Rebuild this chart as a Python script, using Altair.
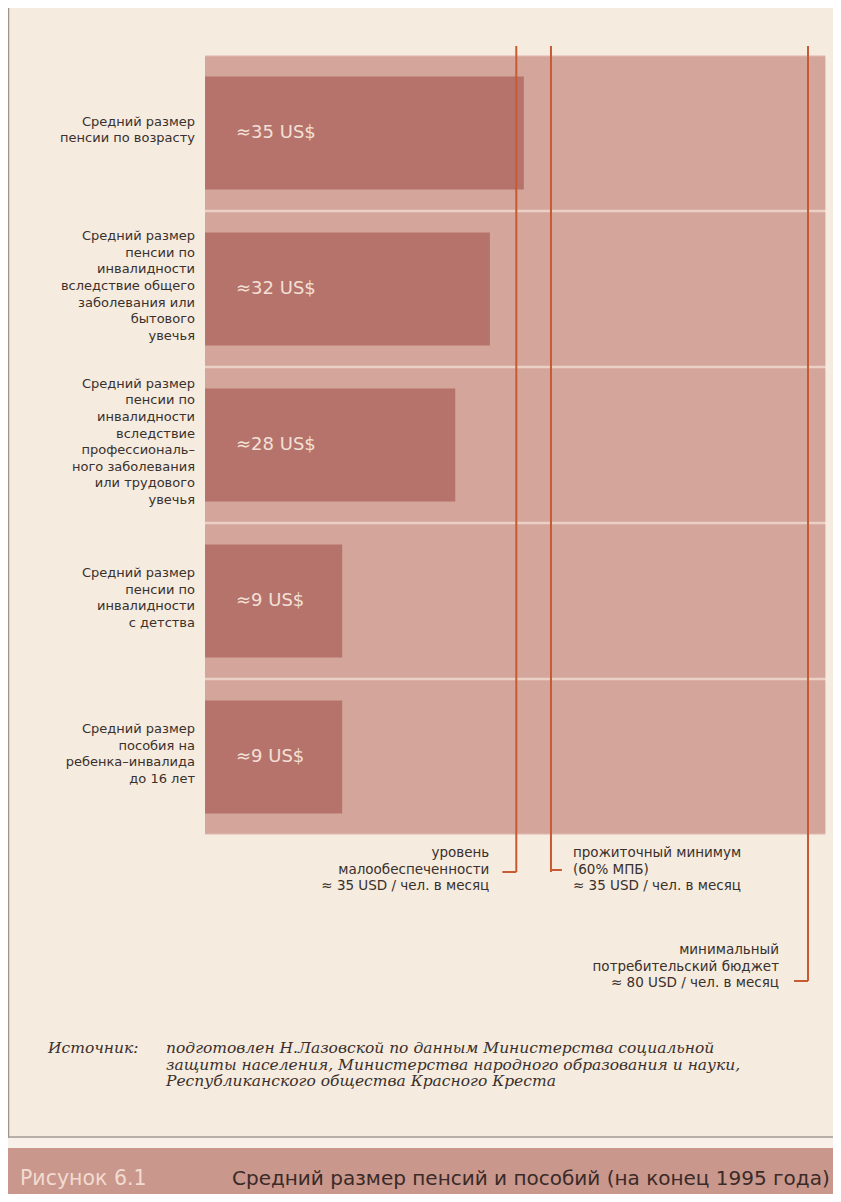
import altair as alt
import pandas as pd

# ---------------- values ----------------
category_ids = ["c1", "c2", "c3", "c4", "c5"]
category_labels = [
    "Средний размер\nпенсии по возрасту",
    "Средний размер\nпенсии по\nинвалидности\nвследствие общего\nзаболевания или\nбытового\nувечья",
    "Средний размер\nпенсии по\nинвалидности\nвследствие\nпрофессиональ–\nного заболевания\nили трудового\nувечья",
    "Средний размер\nпенсии по\nинвалидности\nс детства",
    "Средний размер\nпособия на\nребенка–инвалида\nдо 16 лет",
]
value_labels = ["≈35 US$", "≈32 US$", "≈28 US$", "≈9 US$", "≈9 US$"]
stated_usd = [35, 32, 28, 9, 9]
# bar lengths as drawn, on the picture's own scale (80 USD = right-hand line)
drawn_length = [42.3, 37.8, 33.2, 18.2, 18.2]

threshold_texts = [
    "уровень\nмалообеспеченности\n≈ 35 USD / чел. в месяц",
    "прожиточный минимум\n(60% МПБ)\n≈ 35 USD / чел. в месяц",
    "минимальный\nпотребительский бюджет\n≈ 80 USD / чел. в месяц",
]
threshold_drawn = [41.3, 45.9, 80.0]
panel_extent = 82.3

source_head = "Источник:"
source_lines = [
    "подготовлен Н.Лазовской по данным Министерства социальной",
    "защиты населения, Министерства народного образования и науки,",
    "Республиканского общества Красного Креста",
]
fig_number = "Рисунок 6.1"
fig_title = "Средний размер пенсий и пособий (на конец 1995 года)"

# ---------------- styling / layout ----------------
BG = "#f5ebdf"
BAND = "#d4a69b"
GAP = "#ead0c5"
BAR = "#b6736b"
LINE = "#c85a32"
TXT = "#3a302c"
SANS = "DejaVu Sans"

W, H = 825, 1186
CAT_LH = 16.6
xs = alt.Scale(domain=[0, 80], range=[197, 800], nice=False, zero=False)
ys = alt.Scale(domain=category_ids, range=[47, 827], paddingInner=0, paddingOuter=0)

cats = pd.DataFrame({
    "id": category_ids,
    "label": category_labels,
    "value_label": value_labels,
    "usd": stated_usd,
    "length": drawn_length,
})
cats["zero"] = 0.0
cats["extent"] = panel_extent

Y = alt.Y("id:N", scale=ys, axis=None, sort=category_ids)

underlay = alt.Chart(pd.DataFrame({"a": [0.0], "b": [panel_extent]})).mark_rect(color=GAP).encode(
    x=alt.X("a:Q", scale=xs, axis=None),
    x2="b:Q",
    y=alt.value(47),
    y2=alt.value(827),
)

bands = alt.Chart(cats).mark_bar(color=BAND, height=alt.RelativeBandSize(0.985)).encode(
    y=Y, x=alt.X("zero:Q", scale=xs, axis=None), x2="extent:Q",
)

bars = alt.Chart(cats).mark_bar(color=BAR, height=alt.RelativeBandSize(0.725)).encode(
    y=Y, x=alt.X("zero:Q", scale=xs, axis=None), x2="length:Q",
)

bar_text = alt.Chart(cats).mark_text(
    align="left", baseline="middle", dx=31, font=SANS, fontSize=18, color="#f3e0d6"
).encode(
    y=Y, x=alt.X("zero:Q", scale=xs, axis=None), text="value_label:N",
)

cat_layers = []
for cid, lab in zip(category_ids, category_labels):
    n = lab.count("\n") + 1
    cat_layers.append(
        alt.Chart(cats).transform_filter(alt.datum.id == cid).mark_text(
            align="right", baseline="middle", lineBreak="\n", lineHeight=CAT_LH,
            font=SANS, fontSize=13, color=TXT, dy=-(n - 1) * CAT_LH / 2 - 3
        ).encode(y=Y, x=alt.value(187), text="label:N")
    )

thr = pd.DataFrame({"pos": threshold_drawn, "text": threshold_texts, "idx": [0, 1, 2]})
rule_end = [864, 864, 973]
hook_y = [864, 862, 973]
hook_dir = [-1.85, 1.45, -1.85]
text_align = ["right", "left", "right"]
text_dx = [-27, 22, -29]
text_y = [845, 845, 942]

thr_layers = []
for i in range(3):
    d = thr[thr["idx"] == i].copy()
    d["hook"] = d["pos"] + hook_dir[i]
    base = alt.Chart(d)
    thr_layers.append(base.mark_rule(color=LINE, strokeWidth=2).encode(
        x=alt.X("pos:Q", scale=xs, axis=None), y=alt.value(38), y2=alt.value(rule_end[i])))
    thr_layers.append(base.mark_rule(color=LINE, strokeWidth=2).encode(
        x=alt.X("pos:Q", scale=xs, axis=None), x2="hook:Q", y=alt.value(hook_y[i])))
    thr_layers.append(base.mark_text(
        align=text_align[i], baseline="middle", dx=text_dx[i], lineBreak="\n",
        lineHeight=16.5, font=SANS, fontSize=13.5, color=TXT
    ).encode(x=alt.X("pos:Q", scale=xs, axis=None), y=alt.value(text_y[i]), text="text:N"))

one = pd.DataFrame({"k": [0]})

edge = alt.Chart(one).mark_rule(color="#9c958e", strokeWidth=1.5).encode(
    x=alt.value(0.5), y=alt.value(0), y2=alt.value(1132))

SRC_FS = 15.5
SRC_LH = 16.5
src_head = alt.Chart(pd.DataFrame({"t": [source_head]})).mark_text(
    align="left", baseline="middle", font="DejaVu Serif", fontStyle="italic",
    fontSize=SRC_FS, color=TXT
).encode(x=alt.value(40), y=alt.value(1040), text="t:N")

src_layers = []
for j, line in enumerate(source_lines):
    src_layers.append(
        alt.Chart(pd.DataFrame({"t": [line]})).mark_text(
            align="left", baseline="middle", font="DejaVu Serif", fontStyle="italic",
            fontSize=SRC_FS, color=TXT
        ).encode(x=alt.value(158), y=alt.value(1040 + SRC_LH * j), text="t:N")
    )

sep_line = alt.Chart(one).mark_rule(color="#a39c95", strokeWidth=1.5).encode(
    x=alt.value(0), x2=alt.value(W), y=alt.value(1129))

strip = alt.Chart(one).mark_rect(color="#f8f1ea").encode(
    x=alt.value(0), x2=alt.value(W), y=alt.value(1130), y2=alt.value(1140))

title_band = alt.Chart(one).mark_rect(color="#c9978c").encode(
    x=alt.value(0), x2=alt.value(W), y=alt.value(1140), y2=alt.value(H))

fig_no = alt.Chart(pd.DataFrame({"t": [fig_number]})).mark_text(
    align="left", baseline="middle", font=SANS, fontSize=20.5, color="#f2dbd1"
).encode(x=alt.value(12), y=alt.value(1171), text="t:N")

fig_ttl = alt.Chart(pd.DataFrame({"t": [fig_title]})).mark_text(
    align="left", baseline="middle", font=SANS, fontSize=20, color="#3a2a28"
).encode(x=alt.value(224), y=alt.value(1171), text="t:N")

chart = alt.layer(
    underlay, bands, bars, bar_text, *cat_layers, *thr_layers,
    edge, src_head, *src_layers, sep_line, strip, title_band, fig_no, fig_ttl
).properties(
    width=W, height=H, padding=0, autosize="none", background=BG
).configure_view(stroke=None)

chart.save("out.html", embed_options={"renderer": "svg", "actions": False})
